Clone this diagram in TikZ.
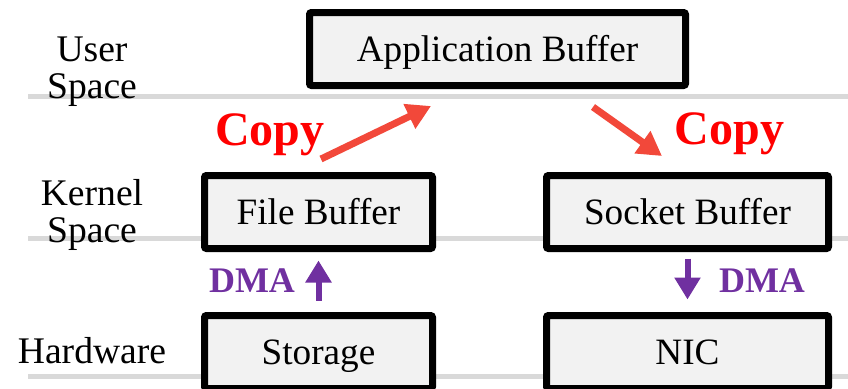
\documentclass[tikz,border=0pt]{standalone}
\usepackage{fontspec}
\setmainfont{Liberation Serif}
\usepackage{tikz}
\usetikzlibrary{arrows.meta}
\usetikzlibrary{positioning}
\definecolor{layergray}{RGB}{217,217,217}
\definecolor{boxfill}{RGB}{242,242,242}
\definecolor{copyred}{RGB}{255,0,0}
\definecolor{copyarrow}{RGB}{242,72,58}
\definecolor{dmapurple}{RGB}{112,48,160}

\begin{document}
\begin{tikzpicture}[x=0.5pt, y=-0.5pt,
        buf/.style={draw=black, fill=boxfill, line width=3.5pt, rounded corners=1pt,
            inner sep=0pt, minimum height=36.5pt, text height=12.5pt, text depth=0.5pt,
            font=\fontsize{18.6}{21}\selectfont},
        layerline/.style={layergray, line width=2.5pt},
        layerlabel/.style={align=center, anchor=base, font=\fontsize{18.8}{18.5}\selectfont},
        copyarr/.style={copyarrow, line width=3.5pt, -{Triangle[length=12pt, width=13pt]}},
        dmaarr/.style={dmapurple, line width=3pt, -{Triangle[length=11pt, width=12.5pt]}},
        copylabel/.style={copyred, anchor=base, font=\fontsize{24}{27}\selectfont\bfseries},
        dmalabel/.style={dmapurple, anchor=base, font=\fontsize{18}{21}\selectfont\bfseries}]
        \useasboundingbox (0, 0) rectangle (848, 388);

        % Layer separators
        \draw[layerline] (28, 96) -- (848, 96);
        \draw[layerline] (28, 238) -- (848, 238);
        \draw[layerline] (28, 376) -- (848, 376);

        % Layer names (base = last line)
        \node[layerlabel] (user) at (92, 98) {User\\Space};
        \node[layerlabel] (kernel) at (92, 242) {Kernel\\Space};
        \node[layerlabel] (hw) at (92, 363) {Hardware};

        % Buffers
        \node[buf, minimum width=188pt] (appbuf) at (497.5, 49) {Application Buffer};
        \node[buf, minimum width=114pt] (filebuf) at (318.5, 212) {File Buffer};
        \node[buf, minimum width=141pt] (sockbuf) at (687.5, 212) {Socket Buffer};
        \node[buf, minimum width=114pt] (storage) at (318.5, 352) {Storage};
        \node[buf, minimum width=141pt] (nic) at (687.5, 352) {NIC};

        % Copies through user space
        \coordinate (cpl1) at (321, 159);
        \coordinate (cpl2) at (431, 106);
        \coordinate (cpr1) at (593, 107);
        \coordinate (cpr2) at (662, 156);
        \draw[copyarr] (cpl1) -- (cpl2);
        \draw[copyarr] (cpr1) -- (cpr2);
        \node[copylabel] (copyl) at (270, 145) {Copy};
        \node[copylabel] (copyr) at (729.5, 144) {Copy};

        % DMA transfers
        \draw[dmaarr, shorten <=5.75pt, shorten >=4.25pt] (storage.north) -- (filebuf.south);
        \draw[dmaarr, shorten <=3.25pt, shorten >=6.25pt] (sockbuf.south) -- (nic.north);
        \node[dmalabel] (dmal) at (252, 292) {DMA};
        \node[dmalabel] (dmar) at (762, 292) {DMA};
    \end{tikzpicture}
\end{document}
